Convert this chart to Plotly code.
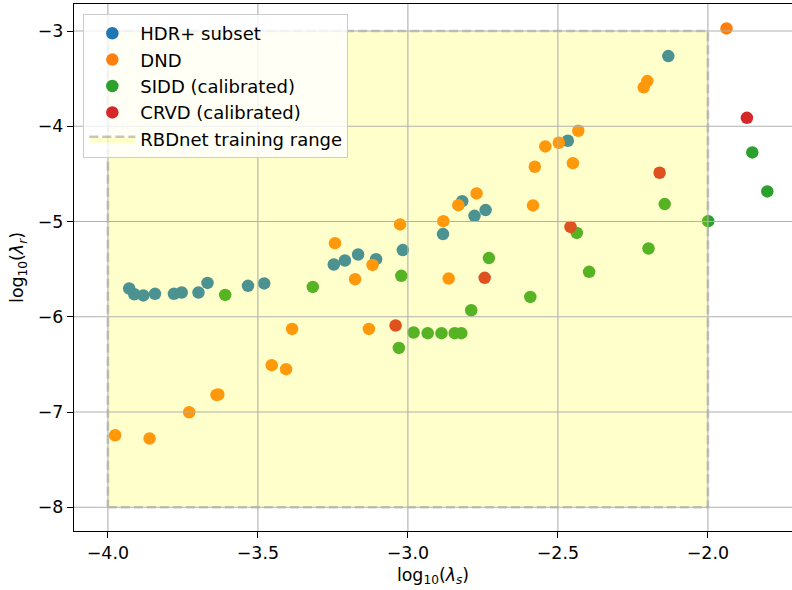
import plotly.graph_objects as go

# ---- data ----
hdr_s = [-3.929, -3.912, -3.882, -3.843, -3.780, -3.754, -3.698, -3.668, -3.533, -3.479,
         -3.247, -3.210, -3.166, -3.106, -3.017, -2.883, -2.819, -2.778, -2.741, -2.467, -2.132]
hdr_r = [-5.703, -5.763, -5.776, -5.759, -5.759, -5.745, -5.745, -5.644, -5.675, -5.650,
         -5.451, -5.409, -5.346, -5.395, -5.300, -5.132, -4.786, -4.940, -4.880, -4.152, -3.263]

dnd_s = [-3.976, -3.861, -3.729, -3.638, -3.632, -3.454, -3.406, -3.386, -3.243, -3.176,
         -3.130, -3.118, -3.026, -2.882, -2.864, -2.832, -2.771, -2.583, -2.577, -2.542,
         -2.497, -2.450, -2.432, -2.214, -2.202, -1.938]
dnd_r = [-7.244, -7.278, -7.002, -6.820, -6.816, -6.508, -6.550, -6.127, -5.227, -5.605,
         -6.127, -5.455, -5.030, -4.996, -5.598, -4.828, -4.705, -4.831, -4.425, -4.211,
         -4.173, -4.387, -4.047, -3.591, -3.525, -2.972]

sidd_s = [-3.609, -3.317, -3.030, -3.022, -2.981, -2.934, -2.888, -2.844, -2.822, -2.789,
          -2.730, -2.592, -2.437, -2.396, -2.198, -2.144, -1.999, -1.852, -1.802]
sidd_r = [-5.770, -5.686, -6.327, -5.570, -6.165, -6.172, -6.172, -6.172, -6.172, -5.931,
          -5.384, -5.791, -5.119, -5.528, -5.283, -4.817, -4.996, -4.274, -4.684]

crvd_s = [-3.041, -2.744, -2.458, -2.161, -1.870]
crvd_r = [-6.091, -5.591, -5.056, -4.488, -3.911]

train_s = [-4.0, -2.0]   # RBDnet training range in log10(lambda_s)
train_r = [-8.0, -3.0]   # RBDnet training range in log10(lambda_r)

x_ticks = [-4.0, -3.5, -3.0, -2.5, -2.0]
y_ticks = [-8, -7, -6, -5, -4, -3]

series = [
    ("HDR+ subset", hdr_s, hdr_r, "#1f77b4"),
    ("DND", dnd_s, dnd_r, "#ff7f0e"),
    ("SIDD (calibrated)", sidd_s, sidd_r, "#2ca02c"),
    ("CRVD (calibrated)", crvd_s, crvd_r, "#d62728"),
]

FONT = "DejaVu Sans"
FS = 17.4

fig = go.Figure()
for name, xs, ys, col in series:
    fig.add_trace(go.Scatter(
        x=xs, y=ys, mode="markers", name=name,
        marker=dict(color=col, size=12.5, line=dict(width=0)),
    ))

# training range rectangle (drawn over the points, semi-transparent)
rx = [train_s[0], train_s[1], train_s[1], train_s[0], train_s[0]]
ry = [train_r[0], train_r[0], train_r[1], train_r[1], train_r[0]]
fig.add_trace(go.Scatter(
    x=rx, y=ry, mode="lines", fill="toself", name="RBDnet training range",
    fillcolor="rgba(255,255,0,0.2)",
    line=dict(color="rgba(128,128,128,0.45)", width=2.6, dash="9px,4px"),
    hoverinfo="skip",
))

# grid lines above everything (as in the reference)
shapes = []
for v in x_ticks:
    shapes.append(dict(type="line", xref="x", yref="paper", x0=v, x1=v, y0=0, y1=1,
                       line=dict(color="#b0b0b0", width=1.1), layer="above"))
for v in y_ticks:
    shapes.append(dict(type="line", xref="paper", yref="y", x0=0, x1=1, y0=v, y1=v,
                       line=dict(color="#b0b0b0", width=1.1), layer="above"))

fig.update_layout(
    width=792, height=590,
    margin=dict(l=74, r=0, t=4, b=59),
    paper_bgcolor="white", plot_bgcolor="white",
    font=dict(family=FONT, size=FS, color="black"),
    shapes=shapes,
    showlegend=True,
    legend=dict(
        x=0.013, y=0.981, xanchor="left", yanchor="top",
        bgcolor="rgba(255,255,255,0.8)", bordercolor="#cccccc", borderwidth=1,
        font=dict(family=FONT, size=18, color="black"),
        itemwidth=46, tracegroupgap=0,
    ),
    xaxis=dict(
        range=[-4.113, -1.7197], tickvals=x_ticks, tickformat=".1f",
        showgrid=False, zeroline=False,
        showline=True, mirror=True, linecolor="black", linewidth=1.4,
        ticks="outside", ticklen=6, tickwidth=1.4, tickcolor="black",
        tickfont=dict(family=FONT, size=FS, color="black"),
        title=dict(text="log<sub>10</sub>(<i>λ</i><sub><i>s</i></sub>)",
                   font=dict(family=FONT, size=FS, color="black"), standoff=6),
    ),
    yaxis=dict(
        range=[-8.249, -2.716], tickvals=y_ticks, tickformat="d",
        showgrid=False, zeroline=False,
        showline=True, mirror=False, linecolor="black", linewidth=1.4,
        ticks="outside", ticklen=6, tickwidth=1.4, tickcolor="black",
        tickfont=dict(family=FONT, size=FS, color="black"),
        title=dict(text="log<sub>10</sub>(<i>λ</i><sub><i>r</i></sub>)",
                   font=dict(family=FONT, size=FS, color="black"), standoff=9),
    ),
)

fig.write_html("out.html")
